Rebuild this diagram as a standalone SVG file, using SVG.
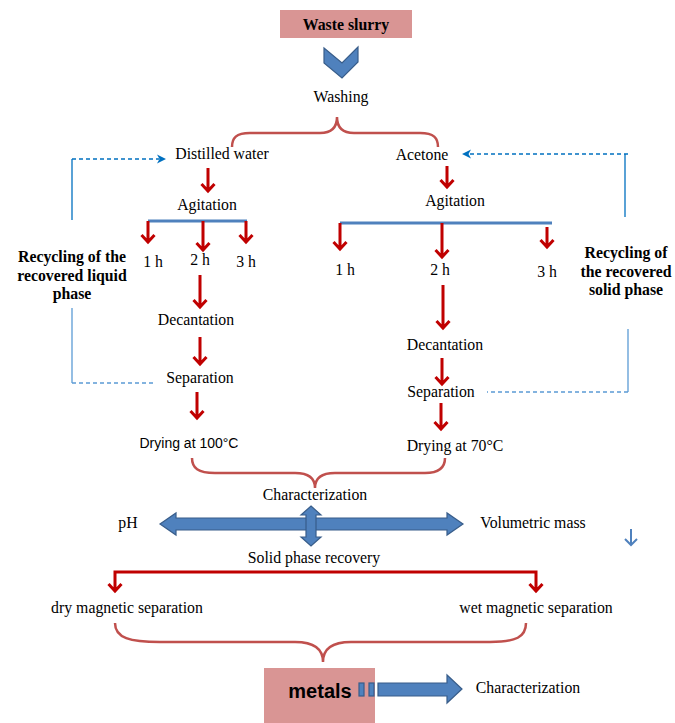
<svg xmlns="http://www.w3.org/2000/svg" width="675" height="723" viewBox="0 0 675 723">
<style>
.t{font-family:"Liberation Serif","Times New Roman",serif;font-size:15.8px;fill:#000;text-anchor:middle}
.b{font-family:"Liberation Serif","Times New Roman",serif;font-size:15.8px;font-weight:bold;fill:#000;text-anchor:middle}
.s{font-family:"Liberation Sans",Arial,sans-serif;font-size:14px;fill:#000;text-anchor:middle}
.ra{fill:none;stroke:#c00000;stroke-width:3;stroke-linejoin:miter}
.bar{stroke:#4f81bd;stroke-width:3}
.br{fill:none;stroke:#c0504d;stroke-width:2.5}
.blk{fill:#4f81bd;stroke:#385d8a;stroke-width:1.2}
.dsh{fill:none;stroke:#0070c0;stroke-width:1.3;stroke-dasharray:4 3}
.sol{fill:none;stroke:#0070c0;stroke-width:1.3}
.dsh2{fill:none;stroke:#5b9bd5;stroke-width:1.3;stroke-dasharray:4 3}
.sol2{fill:none;stroke:#5b9bd5;stroke-width:1.3}
.ah{fill:#0070c0}
.box{fill:#d99594}
</style>
<g id="waste-slurry"><rect class="box" x="280" y="10" width="132" height="28"/><text class="b" x="346" y="30">Waste slurry</text></g>
<g id="washing"><text class="t" x="341" y="102">Washing</text></g>
<g id="distilled-water"><text class="t" x="222" y="159">Distilled water</text></g>
<g id="acetone"><text class="t" x="422" y="160">Acetone</text></g>
<g id="agitation-left"><text class="t" x="207" y="210">Agitation</text></g>
<g id="agitation-right"><text class="t" x="455" y="206">Agitation</text></g>
<g id="times-left"><text class="t" x="153" y="267">1 h</text><text class="t" x="200" y="265">2 h</text><text class="t" x="246" y="267">3 h</text></g>
<g id="times-right"><text class="t" x="345" y="275">1 h</text><text class="t" x="440" y="275">2 h</text><text class="t" x="547" y="277">3 h</text></g>
<g id="decantation-left"><text class="t" x="196" y="325">Decantation</text></g>
<g id="decantation-right"><text class="t" x="445" y="350">Decantation</text></g>
<g id="separation-left"><text class="t" x="200" y="383">Separation</text></g>
<g id="separation-right"><text class="t" x="441" y="397">Separation</text></g>
<g id="drying-left"><text class="s" x="189" y="448">Drying at 100°C</text></g>
<g id="drying-right"><text class="t" x="455" y="451">Drying at 70°C</text></g>
<g id="recycling-liquid"><text class="b" x="72" y="262">Recycling of the</text><text class="b" x="72" y="281">recovered liquid</text><text class="b" x="72" y="299">phase</text></g>
<g id="recycling-solid"><text class="b" x="626" y="258">Recycling of</text><text class="b" x="626" y="277">the recovered</text><text class="b" x="626" y="295">solid phase</text></g>
<g id="characterization"><text class="t" x="315" y="500">Characterization</text></g>
<g id="ph"><text class="t" x="128" y="528">pH</text></g>
<g id="volumetric-mass"><text class="t" x="533" y="528">Volumetric mass</text></g>
<g id="solid-phase-recovery"><text class="t" x="314" y="563">Solid phase recovery</text></g>
<g id="dry-magnetic"><text class="t" x="127" y="613">dry magnetic separation</text></g>
<g id="wet-magnetic"><text class="t" x="536" y="613">wet magnetic separation</text></g>
<g id="metals"><rect class="box" x="264" y="668" width="111" height="55"/><text x="320" y="698" style="font-family:'Liberation Sans',Arial,sans-serif;font-size:20px;font-weight:bold;text-anchor:middle;fill:#000">metals</text></g>
<g id="characterization-final"><text class="t" x="528" y="693">Characterization</text></g>
<g id="connectors">
<path class="blk" d="M324,48 L342,63 L358,47 L358,62 L342,78 L324,63 Z"/>
<path class="br" d="M232,147 C232,138 236,133 250,133 L320,133 C332,133 337,127 337,117 C337,127 342,133 354,133 L420,133 C434,133 438,138 438,147"/>
<path class="br" d="M192,458 C192,468 198,473 215,473 L295,473 C308,473 315,478 315,488 C315,478 322,473 335,473 L425,473 C438,473 445,468 445,458"/>
<path class="br" d="M115,623 C115,638 130,642 160,642 L295,642 C315,642 323,650 323,662 C323,650 331,642 351,642 L490,642 C516,642 526,637 526,623"/>
<line class="bar" x1="148" y1="221" x2="247" y2="221"/>
<line class="bar" x1="340" y1="223" x2="552" y2="223"/>
<path class="ra" d="M208,168 V191 M201.5,184 L208,191 L214.5,184"/>
<path class="ra" d="M148,221 V242 M141.5,235 L148,242 L154.5,235"/>
<path class="ra" d="M203,221 V250 M196.5,243 L203,250 L209.5,243"/>
<path class="ra" d="M246,221 V242 M239.5,235 L246,242 L252.5,235"/>
<path class="ra" d="M200,275 V307 M193.5,300 L200,307 L206.5,300"/>
<path class="ra" d="M200,337 V364 M193.5,357 L200,364 L206.5,357"/>
<path class="ra" d="M197,392 V418 M190.5,411 L197,418 L203.5,411"/>
<path class="ra" d="M447,166 V187 M440.5,180 L447,187 L453.5,180"/>
<path class="ra" d="M340,223 V249 M333.5,242 L340,249 L346.5,242"/>
<path class="ra" d="M442,223 V257 M435.5,250 L442,257 L448.5,250"/>
<path class="ra" d="M547,227 V247 M540.5,240 L547,247 L553.5,240"/>
<path class="ra" d="M443,285 V328 M436.5,321 L443,328 L449.5,321"/>
<path class="ra" d="M442,358 V384 M435.5,377 L442,384 L448.5,377"/>
<path class="ra" d="M441,403 V429 M434.5,422 L441,429 L447.5,422"/>
<path class="ra" d="M115,591 V572 H536 V591 M108.5,584 L115,591 L121.5,584 M529.5,584 L536,591 L542.5,584"/>
<path class="sol" d="M72,220 V159"/>
<path class="dsh" d="M72,159 H159"/>
<path class="ah" d="M166,159 L157,154.5 L159.5,159 L157,163.5 Z"/>
<path class="sol" d="M625,217 V154"/>
<path class="dsh" d="M628,154 H469"/>
<path class="ah" d="M462,154 L471,149.5 L468.5,154 L471,158.5 Z"/>
<path class="sol2" d="M72,308 V383"/>
<path class="dsh2" d="M72,383 H155"/>
<path class="sol2" d="M628,329 V392"/>
<path class="dsh2" d="M628,392 H487"/>
<path class="blk" d="M160,524 L176,513 L176,518 L447,518 L447,513 L463,524 L447,535 L447,530 L176,530 L176,535 Z"/>
<path class="blk" d="M311,506 L321,515 L316,515 L316,537 L321,537 L311,546 L301,537 L306,537 L306,515 L301,515 Z"/>
<path fill="none" stroke="#4f81bd" stroke-width="2" d="M631,529 V545 M625,539 L631,545 L637,539"/>
<rect class="blk" x="359" y="683" width="5" height="13"/>
<rect class="blk" x="369" y="683" width="5" height="13"/>
<path class="blk" d="M378,683 L447,683 L447,675 L462,689 L447,703 L447,696 L378,696 Z"/>
</g>
</svg>
